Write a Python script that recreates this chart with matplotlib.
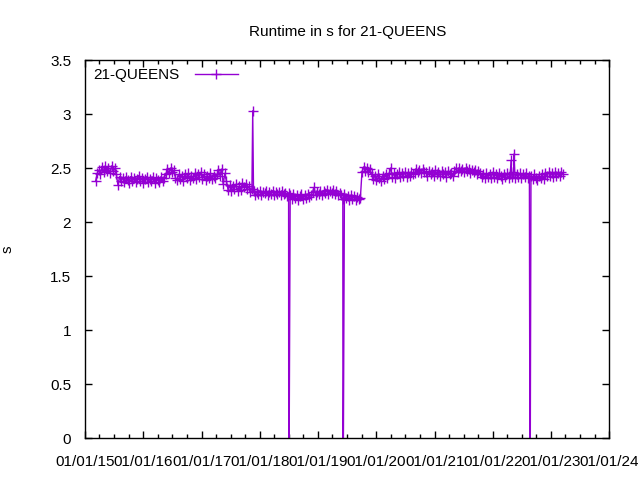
import pandas as pd
import matplotlib
matplotlib.use("Agg")
import matplotlib.pyplot as plt
import matplotlib.dates as mdates

# runtime samples (s), one every 10 days starting 2015-03-08
start_date = "2015-03-08"
step = "10D"
runtime = [
    # 2015
    2.38, 2.45, 2.48, 2.44, 2.51, 2.46, 2.52, 2.47, 2.50, 2.45, 2.52, 2.47, 2.50, 2.44,
    2.34, 2.42, 2.38, 2.41, 2.37, 2.42, 2.39, 2.36, 2.42, 2.38, 2.41, 2.37, 2.40, 2.43,
    2.38, 2.41, 2.36, 2.40, 2.42, 2.37, 2.40, 2.38, 2.42, 2.36, 2.41, 2.39, 2.37, 2.42,
    2.38, 2.41,
    # 2016
    2.44, 2.49, 2.45, 2.50, 2.46, 2.48, 2.41,
    2.39, 2.44, 2.40, 2.43, 2.38, 2.44, 2.41, 2.45, 2.39, 2.43, 2.41, 2.45, 2.40, 2.44,
    2.42, 2.46, 2.40, 2.44, 2.39, 2.43, 2.41, 2.45, 2.40, 2.43, 2.41,
    # 2017
    2.44, 2.48, 2.43, 2.49, 2.35, 2.45, 2.38,
    2.30, 2.34, 2.29, 2.33, 2.31, 2.35, 2.29, 2.33, 2.30, 2.36, 2.32, 2.35, 2.31, 2.33,
    2.28, 2.31,
    2.29, 2.25, 2.28, 2.26, 2.29, 2.25, 2.28, 2.27, 2.29, 2.25, 2.28, 2.26, 2.29, 2.25,
    2.28, 2.26, 2.28, 2.25, 2.29, 2.26, 2.27, 2.24, 2.27,
    # 2018 - 2019
    2.25, 2.21, 2.26, 2.22, 2.25, 2.20, 2.24, 2.26, 2.21, 2.25, 2.22, 2.26, 2.23,
    2.25, 2.28, 2.32, 2.25, 2.28, 2.26, 2.29, 2.25, 2.29, 2.27, 2.30, 2.26, 2.29, 2.27,
    2.30, 2.26, 2.29, 2.25, 2.27,
    2.25, 2.21, 2.26, 2.22, 2.24, 2.20, 2.25, 2.21, 2.24, 2.20, 2.23, 2.21, 2.22,
    # 2019 - 2021
    2.46, 2.51, 2.47, 2.50, 2.46, 2.49,
    2.44, 2.40, 2.43, 2.39, 2.44, 2.41, 2.38, 2.43, 2.40,
    2.44, 2.41, 2.45, 2.50, 2.42, 2.45, 2.41, 2.44, 2.46,
    2.42, 2.45, 2.43, 2.46, 2.42, 2.45, 2.43, 2.46, 2.44,
    2.45, 2.49, 2.46, 2.48, 2.45, 2.49, 2.46,
    2.46, 2.43, 2.47, 2.44, 2.46, 2.43, 2.48, 2.44, 2.46, 2.43, 2.47, 2.44, 2.46, 2.42,
    2.47, 2.44, 2.45, 2.43,
    2.47, 2.50, 2.46, 2.50, 2.47, 2.49, 2.46, 2.50, 2.47, 2.49, 2.45, 2.48, 2.46, 2.48,
    2.44, 2.47,
    # 2021 - 2023
    2.45, 2.42, 2.44, 2.41, 2.45, 2.42, 2.44, 2.41, 2.46, 2.42, 2.44, 2.41, 2.45, 2.43,
    2.40, 2.44, 2.42, 2.45, 2.41, 2.44, 2.42, 2.46, 2.41, 2.44, 2.42, 2.45, 2.41, 2.44,
    2.42, 2.45, 2.41, 2.43,
    2.43, 2.40, 2.44, 2.41, 2.39, 2.43, 2.41, 2.44, 2.40,
    2.45, 2.43, 2.46, 2.43, 2.45, 2.42, 2.46, 2.43, 2.45, 2.43, 2.46, 2.44,
]

# odd runs: spikes and failed runs
event_dates = ["2017-11-17", "2018-07-01", "2019-06-06",
               "2022-04-25", "2022-05-14", "2022-08-22"]
event_values = [3.03, -1.0, -1.0, 2.57, 2.63, -1.0]

df = pd.DataFrame({
    "date": pd.date_range(start_date, periods=len(runtime), freq=step),
    "runtime": runtime,
})
events = pd.DataFrame({"date": pd.to_datetime(event_dates), "runtime": event_values})
df = pd.concat([df, events]).sort_values("date")

plt.rcParams["font.family"] = "Liberation Sans"
plt.rcParams["font.size"] = 11

fig = plt.figure(figsize=(6.4, 4.8), dpi=100)
ax = fig.add_axes([0.133, 0.0875, 0.819, 0.7875])

color = "#9400d3"
ax.plot(df["date"], df["runtime"], color=color, lw=1, marker="+", ms=7, mew=1,
        label="21-QUEENS")

ax.set_xlim(pd.Timestamp("2015-01-01"), pd.Timestamp("2024-01-01"))
ax.set_ylim(0, 3.5)
ax.set_yticks([0, 0.5, 1, 1.5, 2, 2.5, 3, 3.5])
ax.set_yticklabels(["0", "0.5", "1", "1.5", "2", "2.5", "3", "3.5"])
ax.xaxis.set_major_locator(mdates.YearLocator())
ax.xaxis.set_minor_locator(mdates.MonthLocator(bymonth=[4, 7, 10]))
ax.xaxis.set_major_formatter(mdates.DateFormatter("%m/%d/%y"))

ax.tick_params(which="both", direction="in", top=True, right=True, width=1)
ax.tick_params(which="major", length=5)
ax.tick_params(which="minor", length=3)
ax.tick_params(axis="x", pad=12)
ax.tick_params(axis="y", pad=10)
for s in ax.spines.values():
    s.set_linewidth(1)

ax.set_title("Runtime in s for 21-QUEENS", fontsize=11, pad=17)
ax.set_ylabel("s")
ax.yaxis.set_label_coords(-0.135, 0.5)

ax.legend(loc="upper left", frameon=False, markerfirst=False, handlelength=2.8,
          borderaxespad=0.15, handletextpad=1.0)

fig.savefig("out.png")
